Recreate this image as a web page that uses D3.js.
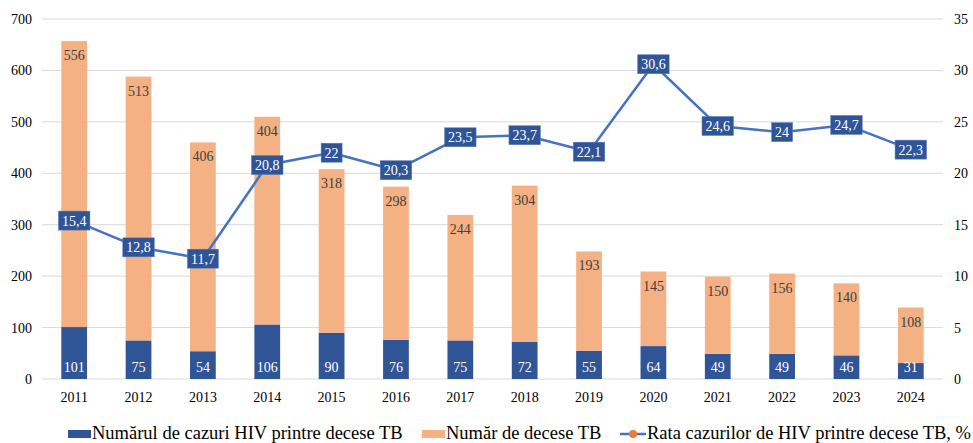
<!DOCTYPE html>
<html>
<head>
<meta charset="utf-8">
<script src="https://cdn.jsdelivr.net/npm/d3@7"></script>
<style>
  html, body { margin: 0; padding: 0; background: #fff; }
</style>
</head>
<body>
<svg id="chart" width="973" height="443"></svg>
<script>
// Years on the x axis
const years = ["2011","2012","2013","2014","2015","2016","2017","2018","2019","2020","2021","2022","2023","2024"];
// HIV cases among TB deaths (bottom segment)
const hivCases = [101, 75, 54, 106, 90, 76, 75, 72, 55, 64, 49, 49, 46, 31];
// TB deaths (stacked segment above)
const tbDeaths = [556, 513, 406, 404, 318, 298, 244, 304, 193, 145, 150, 156, 140, 108];
// Share of HIV cases among TB deaths, %
const hivRate = [15.4, 12.8, 11.7, 20.8, 22, 20.3, 23.5, 23.7, 22.1, 30.6, 24.6, 24, 24.7, 22.3];
// Axis ticks
const leftTicks = [0, 100, 200, 300, 400, 500, 600, 700];
const rightTicks = [0, 5, 10, 15, 20, 25, 30, 35];
// Legend labels
const legendLabels = ["Numărul de cazuri HIV printre decese TB", "Număr de decese TB", "Rata cazurilor de HIV printre decese TB, %"];

const FONT = '"Liberation Serif"';
const C_BLUE = "#2F5597", C_ORANGE = "#F4B183", C_LINE = "#4472C4", C_MARK = "#ED7D31";
const svg = d3.select("#chart");
const m = { left: 42, right: 943, top: 19, bottom: 379 };

const x = d3.scaleBand().domain(years).range([m.left, m.right]).paddingInner(0.6).paddingOuter(0.3);
const yL = d3.scaleLinear().domain([0, 700]).range([m.bottom, m.top]);
const yR = d3.scaleLinear().domain([0, 35]).range([m.bottom, m.top]);

// gridlines
svg.append("g").selectAll("line").data(leftTicks).join("line")
  .attr("x1", m.left).attr("x2", m.right)
  .attr("y1", d => yL(d)).attr("y2", d => yL(d))
  .attr("stroke", "#D9D9D9").attr("stroke-width", 1);

function styleAxis(g) {
  g.select(".domain").remove();
  g.selectAll("text").attr("font-size", 14).attr("fill", "#000").style("font-family", FONT);
}

// left axis
svg.append("g").attr("transform", `translate(${m.left},0)`)
  .call(d3.axisLeft(yL).tickValues(leftTicks).tickSize(0).tickPadding(10)).call(styleAxis);

// right axis
svg.append("g").attr("transform", `translate(${m.right},0)`)
  .call(d3.axisRight(yR).tickValues(rightTicks).tickSize(0).tickPadding(11)).call(styleAxis);

// bottom axis
svg.append("g").attr("transform", `translate(0,${m.bottom})`)
  .call(d3.axisBottom(x).tickSize(0).tickPadding(13)).call(styleAxis);

const rows = years.map((yr, i) => ({ yr, hiv: hivCases[i], tb: tbDeaths[i], rate: hivRate[i] }));

// stacked bars
const bars = svg.append("g");
bars.selectAll("rect.hiv").data(rows).join("rect").attr("class", "hiv")
  .attr("x", d => x(d.yr)).attr("width", x.bandwidth())
  .attr("y", d => yL(d.hiv)).attr("height", d => yL(0) - yL(d.hiv))
  .attr("fill", C_BLUE);
bars.selectAll("rect.tb").data(rows).join("rect").attr("class", "tb")
  .attr("x", d => x(d.yr)).attr("width", x.bandwidth())
  .attr("y", d => yL(d.hiv + d.tb)).attr("height", d => yL(d.hiv) - yL(d.hiv + d.tb))
  .attr("fill", C_ORANGE);

// bar labels
svg.append("g").selectAll("text").data(rows).join("text")
  .attr("x", d => x(d.yr) + x.bandwidth() / 2).attr("y", d => yL(0) - 7)
  .attr("text-anchor", "middle").attr("font-size", 14).attr("fill", "#fff")
  .style("font-family", FONT).text(d => d.hiv);
svg.append("g").selectAll("text").data(rows).join("text")
  .attr("x", d => x(d.yr) + x.bandwidth() / 2).attr("y", d => yL(d.hiv + d.tb) + 19)
  .attr("text-anchor", "middle").attr("font-size", 14).attr("fill", "#404040")
  .style("font-family", FONT).text(d => d.tb);

// rate line
const cx = d => x(d.yr) + x.bandwidth() / 2;
svg.append("path").datum(rows)
  .attr("fill", "none").attr("stroke", C_LINE).attr("stroke-width", 2.5).attr("stroke-linejoin", "round")
  .attr("d", d3.line().x(cx).y(d => yR(d.rate)));
svg.append("g").selectAll("circle").data(rows).join("circle")
  .attr("cx", cx).attr("cy", d => yR(d.rate)).attr("r", 4).attr("fill", C_MARK);

// rate labels in boxes
const fmt = v => String(v).replace(".", ",");
const lbl = svg.append("g").selectAll("g").data(rows).join("g")
  .attr("transform", d => `translate(${cx(d)},${yR(d.rate)})`);
lbl.append("text").attr("text-anchor", "middle").attr("dy", "0.35em")
  .attr("font-size", 14).attr("fill", "#fff").style("font-family", FONT).text(d => fmt(d.rate));
lbl.each(function () {
  const g = d3.select(this);
  const w = g.select("text").node().getComputedTextLength() + 7;
  g.insert("rect", "text").attr("x", -w / 2).attr("y", -9.5).attr("width", w).attr("height", 19)
    .attr("fill", C_BLUE).attr("stroke", "#5B7DB8").attr("stroke-width", 0.5);
});

// legend
const lg = svg.append("g");
const legY = 434;
const legFont = 18.5;
lg.append("rect").attr("x", 68).attr("y", legY - 4).attr("width", 23).attr("height", 8).attr("fill", C_BLUE);
lg.append("text").attr("x", 92).attr("y", legY + 5).attr("font-size", legFont)
  .style("font-family", FONT).text(legendLabels[0]);
lg.append("rect").attr("x", 422).attr("y", legY - 4).attr("width", 23).attr("height", 8).attr("fill", C_ORANGE);
lg.append("text").attr("x", 446).attr("y", legY + 5).attr("font-size", legFont)
  .style("font-family", FONT).text(legendLabels[1]);
lg.append("line").attr("x1", 620).attr("x2", 646).attr("y1", legY).attr("y2", legY)
  .attr("stroke", C_LINE).attr("stroke-width", 2.5);
lg.append("circle").attr("cx", 633).attr("cy", legY).attr("r", 4).attr("fill", C_MARK);
lg.append("text").attr("x", 647).attr("y", legY + 5).attr("font-size", legFont)
  .style("font-family", FONT).text(legendLabels[2]);
</script>
</body>
</html>
